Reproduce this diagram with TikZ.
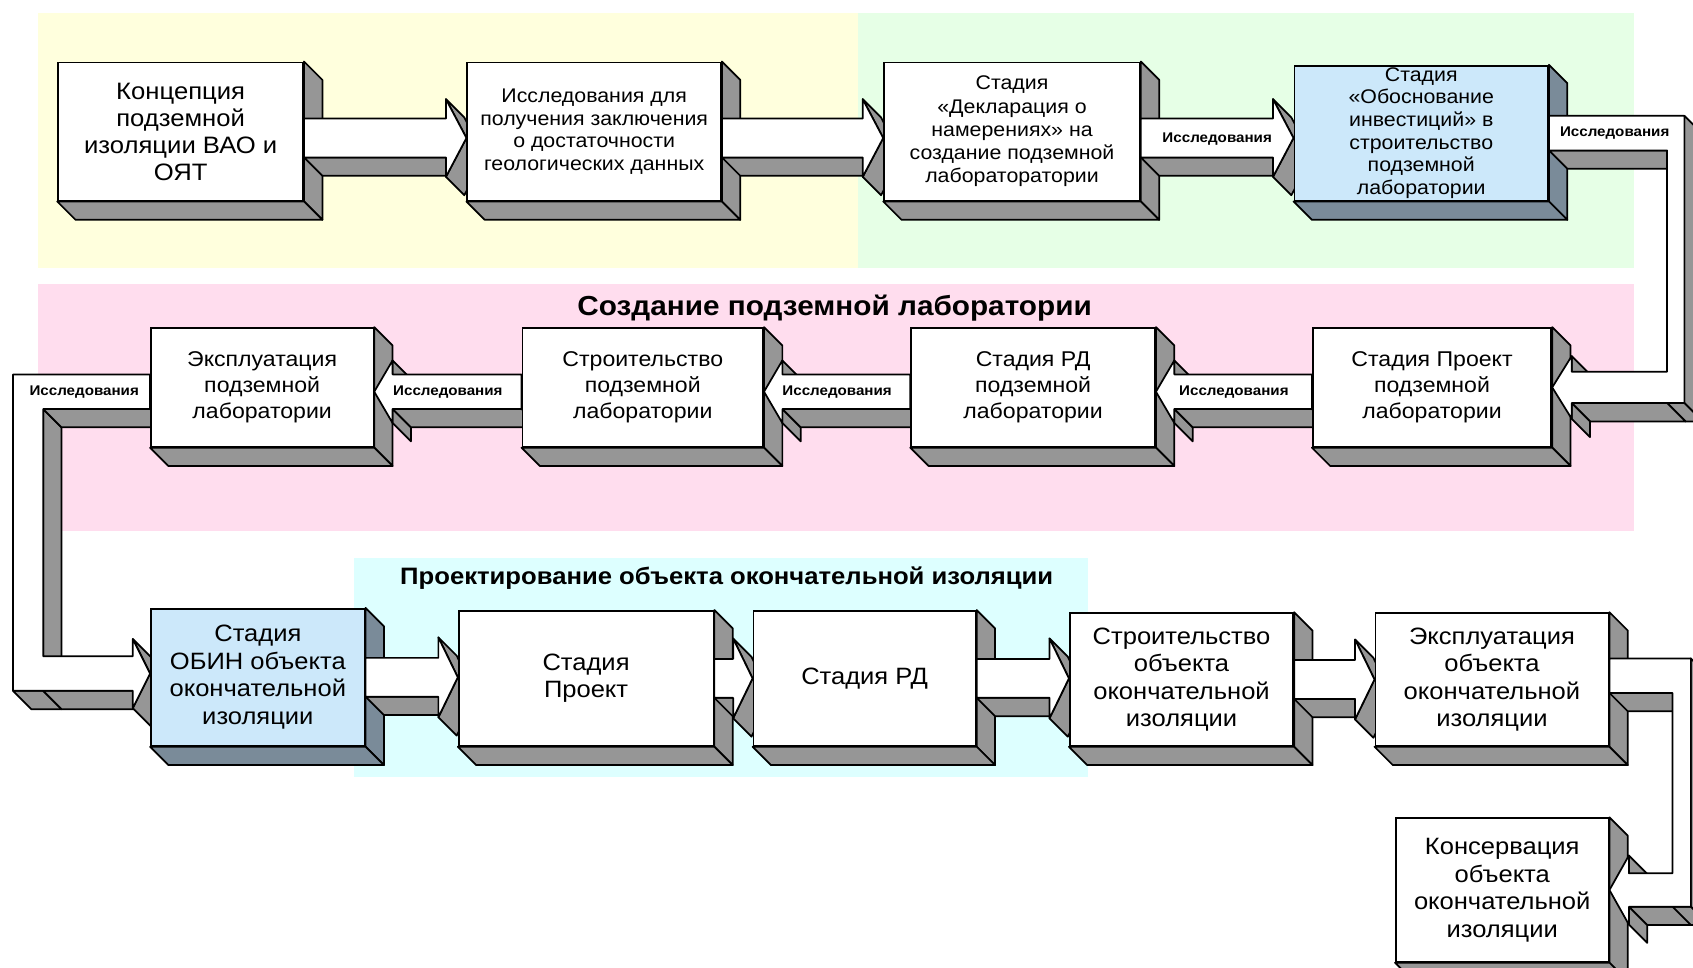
\documentclass[tikz,border=0pt]{standalone}
\usepackage{fontspec}
\setmainfont{Liberation Sans}[FakeStretch=1.08]
\usetikzlibrary{calc, positioning}
\definecolor{bgyellow}{RGB}{255,255,221}
\definecolor{bggreen}{RGB}{230,255,230}
\definecolor{bgpink}{RGB}{255,221,238}
\definecolor{bgcyan}{RGB}{221,255,255}
\definecolor{sidegray}{RGB}{150,150,150}
\definecolor{bluefront}{RGB}{204,232,250}
\definecolor{blueside}{RGB}{122,139,153}
\pgfdeclarelayer{bg}
\pgfdeclarelayer{sides}
\pgfdeclarelayer{arrows}
\pgfsetlayers{bg,sides,arrows,main}
\tikzstyle{stage}=[draw, line width=1.6pt, fill=white, anchor=north west, inner sep=0pt, align=center]
\tikzstyle{side}=[fill=sidegray, draw=black, line width=1.6pt, line join=round]
\tikzstyle{front}=[fill=white, draw=black, line width=1.6pt, line join=round]

\newcommand\dd{17}
% edge (#2)-(#3) pushed back into depth
\newcommand\face[3][side]{\filldraw[#1] (#2) -- (#3) -- ($(#3)+(\dd,-\dd)$) -- ($(#2)+(\dd,-\dd)$) -- cycle;}
\newcommand\boxsides[2][sidegray]{%
  \face[side,fill=#1]{#2.north east}{#2.south east}%
  \face[side,fill=#1]{#2.south west}{#2.south east}}
% from, to, y shift, shaft half, head half, head length
\newcommand\arrowR[6]{%
  \coordinate (aS) at ($(#1.east)+(0,#3)$);
  \coordinate (aT) at (#2.west |- aS);
  \coordinate (aA) at ($(aS)+(0,#4)$);
  \coordinate (aB) at ($(aT)+(-#6,#4)$);
  \coordinate (aC) at ($(aT)+(-#6,#5)$);
  \coordinate (aE) at ($(aT)+(-#6,-#5)$);
  \coordinate (aF) at ($(aT)+(-#6,-#4)$);
  \coordinate (aG) at ($(aS)+(0,-#4)$);
  \face{aG}{aF}
  \face{aE}{aT}
  \face{aT}{aC}
  \filldraw[front] (aA) -- (aB) -- (aC) -- (aT) -- (aE) -- (aF) -- (aG) -- cycle;}
\newcommand\arrowL[6]{%
  \coordinate (aS) at ($(#1.west)+(0,#3)$);
  \coordinate (aT) at (#2.east |- aS);
  \coordinate (aA) at ($(aS)+(0,#4)$);
  \coordinate (aB) at ($(aT)+(#6,#4)$);
  \coordinate (aC) at ($(aT)+(#6,#5)$);
  \coordinate (aE) at ($(aT)+(#6,-#5)$);
  \coordinate (aF) at ($(aT)+(#6,-#4)$);
  \coordinate (aG) at ($(aS)+(0,-#4)$);
  \face{aE}{aF}
  \face{aF}{aG}
  \face{aB}{aC}
  \filldraw[front] (aA) -- (aB) -- (aC) -- (aT) -- (aE) -- (aF) -- (aG) -- cycle;}
% from, to, y shift, top half, bottom half, head half, inner x, outer x
\newcommand\elbowR[8]{%
  \coordinate (eI) at (#7,0);
  \coordinate (eO) at (#8,0);
  \coordinate (e1) at ($(#1.east)+(0,#3+#4)$);
  \coordinate (e11) at ($(#1.east)+(0,#3-#4)$);
  \coordinate (e2) at (e1 -| eO);
  \coordinate (e10) at (e11 -| eI);
  \coordinate (eT) at (#2.east);
  \coordinate (e3) at ($(eT -| eO)+(0,-#5)$);
  \coordinate (e3i) at ($(eT -| eI)+(0,-#5)$);
  \coordinate (e9) at ($(eT -| eI)+(0,#5)$);
  \coordinate (e4) at ($(eT)+(18,-#5)$);
  \coordinate (e5) at ($(eT)+(18,-#6)$);
  \coordinate (e7) at ($(eT)+(18,#6)$);
  \coordinate (e8) at ($(eT)+(18,#5)$);
  \face{e11}{e10}
  \face{e2}{e3}
  \face{e3i}{e3}
  \face{e4}{e3i}
  \face{e4}{e5}
  \face{e8}{e7}
  \filldraw[front] (e1) -- (e2) -- (e3) -- (e4) -- (e5) -- (eT) -- (e7) -- (e8) -- (e9) -- (e10) -- (e11) -- cycle;}

\begin{document}
\begin{tikzpicture}[x=1pt, y=1pt,
    fs/.style 2 args={font=\fontsize{#1}{#2}\selectfont},
    lbl/.style={font=\bfseries\fontsize{13}{15}\selectfont, inner sep=0pt}]
  \useasboundingbox (0,0) rectangle (1568,-896);

  \node[stage, minimum width=227, minimum height=128, fs={22}{25}] (konc) at (53,-57)
    {Концепция\\подземной\\изоляции ВАО и\\ОЯТ};
  \node[stage, minimum width=235, minimum height=128, fs={18.3}{21}] (issl) at (432,-57)
    {Исследования для\\получения заключения\\о достаточности\\геологических данных};
  \node[stage, minimum width=237, minimum height=128, fs={18.3}{21.5}] (decl) at (818,-57)
    {Стадия\\«Декларация о\\намерениях» на\\создание подземной\\лабораторатории};
  \node[stage, fill=bluefront, minimum width=235, minimum height=125, fs={18.3}{21}] (obosn) at (1198,-60)
    {Стадия\\«Обоснование\\инвестиций» в\\строительство\\подземной\\лаборатории};

  \node[stage, minimum width=206, minimum height=110, fs={19.8}{24}] (expl) at (139,-303)
    {Эксплуатация\\подземной\\лаборатории};
  \node[stage, minimum width=223, minimum height=110, fs={19.8}{24}] (stroi) at (483,-303)
    {Строительство\\подземной\\лаборатории};
  \node[stage, minimum width=226, minimum height=110, fs={19.8}{24}] (rd) at (843,-303)
    {Стадия РД\\подземной\\лаборатории};
  \node[stage, minimum width=221, minimum height=110, fs={19.8}{24}] (proekt) at (1215,-303)
    {Стадия Проект\\подземной\\лаборатории};

  \node[stage, fill=bluefront, minimum width=198, minimum height=127, fs={21.9}{25.5}] (obin) at (139,-563)
    {Стадия\\ОБИН объекта\\окончательной\\изоляции};
  \node[stage, minimum width=236, minimum height=125, fs={21.9}{25.5}] (proekt2) at (424,-565)
    {Стадия\\Проект};
  \node[stage, minimum width=206, minimum height=125, fs={21.9}{25.5}] (rd2) at (697,-565)
    {Стадия РД};
  \node[stage, minimum width=207, minimum height=123, fs={21.9}{25.5}] (stroi2) at (990,-567)
    {Строительство\\объекта\\окончательной\\изоляции};
  \node[stage, minimum width=216, minimum height=123, fs={21.9}{25.5}] (expl2) at (1273,-567)
    {Эксплуатация\\объекта\\окончательной\\изоляции};
  \node[stage, minimum width=197, minimum height=133, fs={21.9}{25.5}] (kons) at (1292,-757)
    {Консервация\\объекта\\окончательной\\изоляции};

  \node[font=\bfseries\fontsize{25.5}{30}\selectfont] (tlab) at (773,-285) {Создание подземной лаборатории};
  \node[font=\bfseries\fontsize{22}{26}\selectfont] (tobj) at (673,-535) {Проектирование объекта окончательной изоляции};

  \node[lbl] (l1) at ($(decl.east)!0.5!(obosn.west)+(0,-6)$) {Исследования};
  \node[lbl, right=10pt of obosn.east] (l2) {Исследования};
  \node[lbl] (l3) at ($(proekt.west)!0.5!(rd.east)+(0,-4)$) {Исследования};
  \node[lbl] (l4) at ($(rd.west)!0.5!(stroi.east)+(0,-4)$) {Исследования};
  \node[lbl] (l5) at ($(stroi.west)!0.5!(expl.east)+(0,-4)$) {Исследования};
  \node[lbl] (l6) at ($(expl.west)+(-61,-4)$) {Исследования};

  \begin{pgfonlayer}{bg}
    \fill[white] (0,0) rectangle (1568,-896);
    \fill[bgyellow] (35,-12) rectangle (795,-248);
    \fill[bggreen] (795,-12) rectangle (1513,-248);
    \fill[bgpink] (35,-263) rectangle (1513,-492);
    \fill[bgcyan] (328,-517) rectangle (1008,-720);
  \end{pgfonlayer}

  \begin{pgfonlayer}{sides}
    \foreach \n in {konc,issl,decl,expl,stroi,rd,proekt,proekt2,rd2,stroi2,expl2,kons}
      {\boxsides{\n}}
    \boxsides[blueside]{obosn}
    \boxsides[blueside]{obin}
  \end{pgfonlayer}

  \begin{pgfonlayer}{arrows}
    \arrowR{konc}{issl}{-6}{18}{36}{19}
    \arrowR{issl}{decl}{-6}{18}{36}{19}
    \arrowR{decl}{obosn}{-6}{18}{36}{19}
    \elbowR{obosn}{proekt}{0}{16}{14.5}{29}{1544}{1560}
    \arrowL{proekt}{rd}{-4}{16}{29}{17}
    \arrowL{rd}{stroi}{-4}{16}{29}{17}
    \arrowL{stroi}{expl}{-4}{16}{29}{17}
    % expl -> obin round the left side
    \coordinate (lO) at (12,0);
    \coordinate (lI) at (40,0);
    \coordinate (q1) at ($(expl.west)+(0,12)$);
    \coordinate (q11) at ($(expl.west)+(0,-20)$);
    \coordinate (q2) at (q1 -| lO);
    \coordinate (q10) at (q11 -| lI);
    \coordinate (qT) at ($(obin.west)+(0,3.5)$);
    \coordinate (q3) at ($(qT -| lO)+(0,-16)$);
    \coordinate (q3i) at ($(qT -| lI)+(0,-16)$);
    \coordinate (q9) at ($(qT -| lI)+(0,16)$);
    \coordinate (q4) at ($(qT)+(-16,-16)$);
    \coordinate (q5) at ($(qT)+(-16,-32)$);
    \coordinate (q7) at ($(qT)+(-16,32)$);
    \coordinate (q8) at ($(qT)+(-16,16)$);
    \face{q9}{q10}
    \face{q10}{q11}
    \face{q3}{q3i}
    \face{q3i}{q4}
    \face{q5}{qT}
    \face{qT}{q7}
    \filldraw[front] (q1) -- (q2) -- (q3) -- (q4) -- (q5) -- (qT) -- (q7) -- (q8) -- (q9) -- (q10) -- (q11) -- cycle;
    \arrowR{obin}{proekt2}{0}{18}{37}{18}
    \arrowR{proekt2}{rd2}{0}{18}{37}{18}
    \arrowR{rd2}{stroi2}{0}{18}{37}{18}
    \arrowR{stroi2}{expl2}{0}{18}{37}{18}
    \elbowR{expl2}{kons}{3.5}{16}{15.5}{32}{1549}{1566}
  \end{pgfonlayer}
\end{tikzpicture}
\end{document}
